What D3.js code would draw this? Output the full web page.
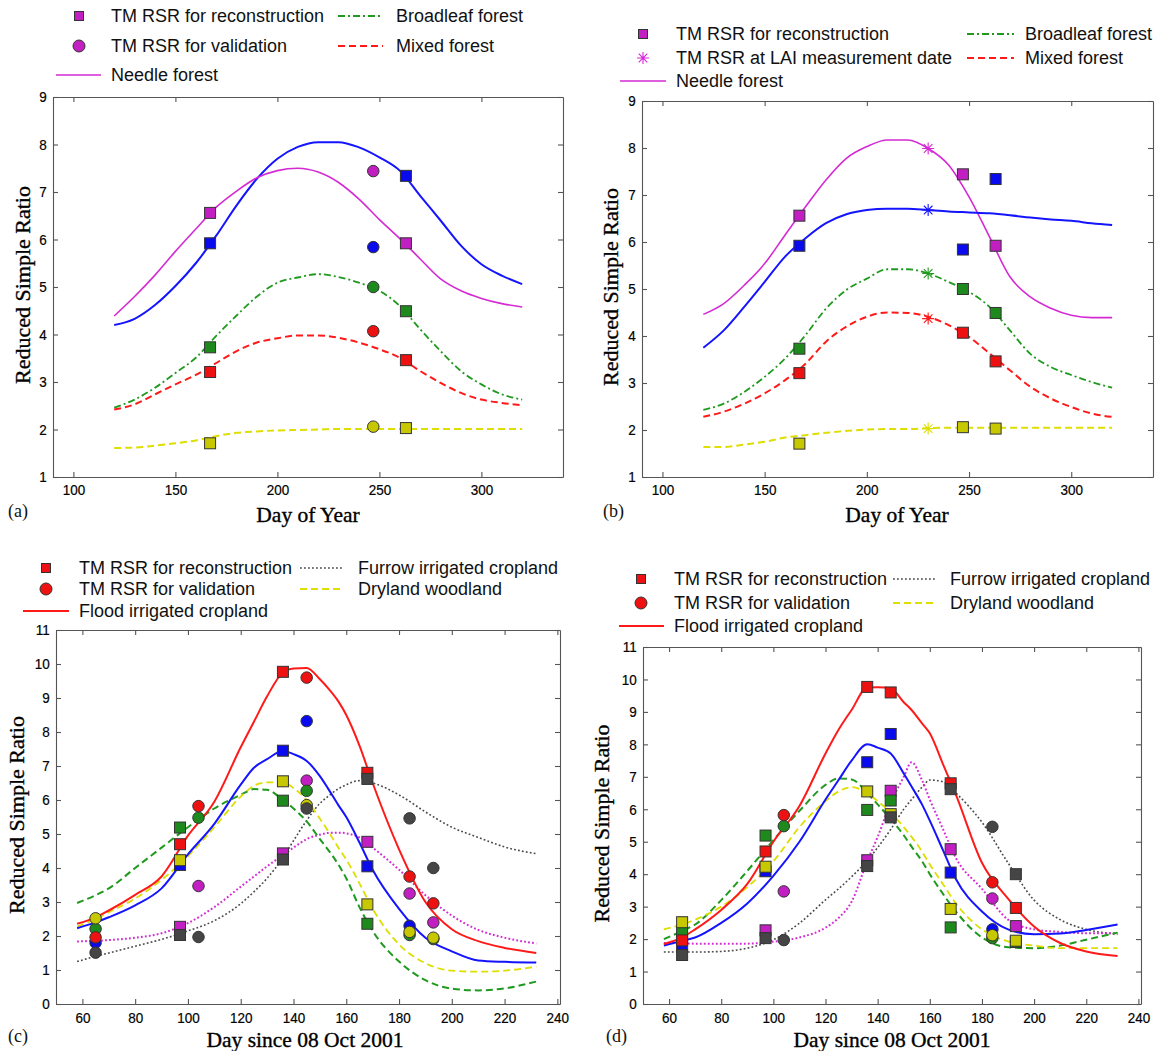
<!DOCTYPE html>
<html>
<head>
<meta charset="utf-8">
<script src="https://cdn.jsdelivr.net/npm/d3@7"></script>
<style>
  body { margin: 0; background: #fff; }
  svg { display: block; }
  .tick text { font-family: "Liberation Sans", Arial, sans-serif; font-size: 15px; fill: #000; stroke: #000; stroke-width: 0.2px; }
  .leg { font-family: "Liberation Sans", Arial, sans-serif; font-size: 18px; fill: #111; }
  .ttl { font-family: "Liberation Serif", "Times New Roman", serif; font-size: 22px; fill: #000; stroke: #000; stroke-width: 0.35px; }
  .tag { font-family: "Liberation Serif", "Times New Roman", serif; font-size: 18px; fill: #111; }
</style>
</head>
<body>
<svg id="fig" width="1155" height="1051"></svg>
<script>
// ---------- panels (a) and (b): forest classes, day of year ----------
var doyDays = [120, 130, 140, 150, 160, 170, 180, 190, 200, 210, 220, 230, 240, 250, 260, 270, 280, 290, 300, 310, 320];

// (a) reconstructed curves
var needleA   = [4.39, 4.80, 5.25, 5.75, 6.22, 6.68, 7.02, 7.30, 7.45, 7.50, 7.42, 7.20, 6.85, 6.42, 6.02, 5.59, 5.17, 4.92, 4.76, 4.65, 4.58];
var blueA     = [4.20, 4.33, 4.62, 5.02, 5.50, 6.08, 6.72, 7.28, 7.70, 7.95, 8.05, 8.05, 7.94, 7.73, 7.45, 6.92, 6.40, 5.87, 5.48, 5.24, 5.06];
var broadA    = [2.46, 2.63, 2.88, 3.19, 3.51, 3.97, 4.40, 4.80, 5.09, 5.20, 5.27, 5.21, 5.09, 4.92, 4.60, 4.11, 3.65, 3.23, 2.95, 2.74, 2.63];
var mixedA    = [2.42, 2.53, 2.74, 2.95, 3.15, 3.40, 3.65, 3.83, 3.92, 3.98, 3.98, 3.93, 3.83, 3.69, 3.51, 3.23, 2.98, 2.77, 2.63, 2.56, 2.51];
var yellowA   = [1.61, 1.62, 1.66, 1.71, 1.77, 1.86, 1.93, 1.96, 1.98, 1.99, 2.00, 2.01, 2.01, 2.01, 2.01, 2.01, 2.01, 2.01, 2.01, 2.01, 2.01];

// (b) reconstructed curves
var needleB   = [4.46, 4.69, 5.08, 5.54, 6.15, 6.75, 7.32, 7.78, 8.03, 8.17, 8.17, 7.99, 7.64, 6.96, 6.11, 5.26, 4.83, 4.59, 4.44, 4.39, 4.39];
var blueB     = [3.75, 4.12, 4.62, 5.15, 5.69, 6.08, 6.40, 6.59, 6.68, 6.71, 6.71, 6.68, 6.65, 6.63, 6.61, 6.57, 6.52, 6.48, 6.45, 6.40, 6.36];
var broadB    = [2.43, 2.56, 2.81, 3.13, 3.52, 4.02, 4.58, 4.98, 5.22, 5.42, 5.42, 5.33, 5.15, 4.94, 4.62, 4.12, 3.62, 3.34, 3.17, 3.02, 2.90];
var mixedB    = [2.28, 2.39, 2.56, 2.78, 3.06, 3.41, 3.88, 4.20, 4.41, 4.50, 4.49, 4.41, 4.23, 3.98, 3.63, 3.27, 2.92, 2.67, 2.49, 2.35, 2.28];
var yellowB   = [1.64, 1.64, 1.69, 1.75, 1.84, 1.89, 1.94, 1.98, 2.01, 2.02, 2.02, 2.04, 2.05, 2.05, 2.05, 2.05, 2.05, 2.05, 2.05, 2.05, 2.05];

// TM RSR observations (same images for both panels)
var tmDaysAB   = [167, 247, 263];
var tmNeedle   = [6.56, 7.44, 5.92];
var tmBlue     = [5.92, 5.84, 7.34];
var tmBroad    = [3.73, 5.00, 4.49];
var tmMixed    = [3.21, 4.07, 3.46];
var tmYellow   = [1.71, 2.06, 2.03];
var validDayA  = 247;

// (b) RSR at the LAI measurement date
var laiDay     = 230;
var laiRsr     = [7.99, 6.68, 5.33, 4.37, 2.03];   // needle, blue, broadleaf, mixed, yellow

// ---------- panels (c) and (d): cropland classes, day since 08 Oct 2001 ----------
var cropDays = [58, 65, 70, 80, 90, 100, 110, 120, 125, 130, 136, 140, 145, 150, 153, 157, 160, 165, 170, 180, 190, 200, 210, 220, 232];

var floodC   = [2.36, 2.55, 2.75, 3.21, 3.75, 4.95, 5.95, 7.55, 8.30, 9.05, 9.75, 9.87, 9.88, 9.55, 9.30, 8.90, 8.50, 7.60, 6.50, 4.55, 3.00, 2.20, 1.85, 1.65, 1.50];
var blueC    = [2.23, 2.40, 2.55, 2.90, 3.40, 4.40, 5.30, 6.45, 6.95, 7.20, 7.44, 7.35, 7.15, 6.70, 6.35, 5.85, 5.50, 4.75, 3.95, 2.80, 1.95, 1.55, 1.28, 1.24, 1.22];
var greenC   = [2.97, 3.20, 3.40, 4.00, 4.60, 5.20, 5.75, 6.15, 6.32, 6.30, 6.00, 5.75, 5.37, 4.85, 4.55, 4.10, 3.70, 2.85, 2.15, 1.25, 0.70, 0.45, 0.40, 0.46, 0.66];
var dryC     = [2.28, 2.50, 2.70, 3.10, 3.65, 4.35, 5.20, 6.10, 6.42, 6.52, 6.52, 6.35, 6.00, 5.45, 5.10, 4.60, 4.25, 3.55, 2.80, 1.75, 1.20, 0.98, 0.95, 0.98, 1.10];
var magentaC = [1.84, 1.86, 1.88, 1.95, 2.08, 2.38, 2.85, 3.45, 3.75, 4.05, 4.38, 4.60, 4.85, 4.98, 5.03, 5.04, 5.02, 4.90, 4.60, 3.95, 3.20, 2.60, 2.18, 1.95, 1.78];
var furrowC  = [1.25, 1.40, 1.50, 1.70, 1.90, 2.15, 2.45, 2.95, 3.30, 3.70, 4.30, 4.80, 5.40, 5.90, 6.10, 6.33, 6.45, 6.57, 6.50, 6.15, 5.65, 5.20, 4.90, 4.62, 4.42];

var floodD   = [1.85, 2.05, 2.30, 2.90, 3.70, 5.00, 6.10, 7.72, 8.45, 9.06, 9.75, 9.76, 9.72, 9.30, 9.06, 8.65, 8.34, 7.40, 6.45, 4.35, 3.25, 2.39, 1.88, 1.62, 1.48];
var blueD    = [1.80, 1.95, 2.05, 2.50, 3.10, 3.95, 5.00, 6.30, 6.90, 7.50, 8.00, 7.90, 7.72, 7.10, 6.70, 6.15, 5.65, 4.75, 3.85, 2.85, 2.30, 2.15, 2.17, 2.28, 2.45];
var greenD   = [2.00, 2.25, 2.45, 3.20, 4.10, 5.05, 5.95, 6.75, 6.95, 6.92, 6.50, 6.15, 5.70, 5.20, 4.85, 4.40, 4.00, 3.40, 2.85, 2.05, 1.75, 1.72, 1.80, 1.98, 2.20];
var dryD     = [2.30, 2.45, 2.60, 3.00, 3.60, 4.40, 5.45, 6.25, 6.55, 6.68, 6.50, 6.25, 5.90, 5.45, 5.15, 4.70, 4.30, 3.70, 3.10, 2.30, 1.93, 1.80, 1.72, 1.72, 1.72];
var magentaD = [1.88, 1.87, 1.86, 1.86, 1.86, 1.92, 2.05, 2.35, 2.65, 3.15, 4.40, 5.15, 6.20, 7.00, 7.45, 6.90, 6.30, 5.40, 4.50, 3.55, 2.60, 2.30, 2.22, 2.18, 2.18];
var furrowD  = [1.60, 1.60, 1.60, 1.62, 1.72, 1.98, 2.49, 3.21, 3.55, 3.92, 4.42, 4.82, 5.38, 6.00, 6.30, 6.68, 6.90, 6.85, 6.50, 5.60, 4.35, 3.20, 2.60, 2.30, 2.15];

// TM RSR observations (null = not visible)
var tmDaysCD   = [65, 97, 104, 136, 145, 168, 184, 193];
var tmFlood    = [1.96, 4.70, 5.82, 9.77, 9.60, 6.80, 3.75, 2.96];
var tmBlueC    = [1.80, 4.09, null, 7.45, 8.32, 4.05, 2.30, null];
var tmGreen    = [2.21, 5.19, 5.48, 5.98, 6.27, 2.36, 2.03, 1.91];
var tmDry      = [2.52, 4.23, null, 6.55, 5.85, 2.93, 2.12, 1.95];
var tmMagenta  = [null, 2.27, 3.47, 4.43, 6.57, 4.77, 3.25, 2.40];
var tmFurrow   = [1.51, 2.03, 1.97, 4.25, 5.75, 6.62, 5.46, 4.00];
var reconDaysC = [97, 136, 168];
var reconDaysD = [65, 97, 136, 145, 168, 193];

var col = {
  magenta: "#d42ad4", blue: "#1414ff", green: "#1f9a1f", red: "#ff1a1a", yellow: "#dede00", gray: "#4a4a4a"
};
var fillCol = {
  magenta: "#c21fc2", blue: "#0a0aee", green: "#1e8a1e", red: "#ee1111", yellow: "#c8c800", gray: "#454545"
};
var dashed = "7,4", dashDot = "7,3,2,3", dotted = "1.8,2.2";

var svg = d3.select("#fig");

function drawMarker(g, shape, cx, cy, c, size) {
  if (shape === "square") {
    var s = size || 11;
    g.append("rect").attr("x", cx - s / 2).attr("y", cy - s / 2).attr("width", s).attr("height", s)
      .attr("fill", fillCol[c]).attr("stroke", "#333").attr("stroke-width", 1);
  } else if (shape === "circle") {
    g.append("circle").attr("cx", cx).attr("cy", cy).attr("r", (size || 11.5) / 2)
      .attr("fill", fillCol[c]).attr("stroke", "#333").attr("stroke-width", 1);
  } else {
    var r = 6, d = 4.3;
    g.append("path")
      .attr("d", `M${cx - r},${cy}H${cx + r}M${cx},${cy - r}V${cy + r}M${cx - d},${cy - d}L${cx + d},${cy + d}M${cx - d},${cy + d}L${cx + d},${cy - d}`)
      .attr("stroke", col[c]).attr("stroke-width", 1.1).attr("fill", "none");
  }
}

function drawPanel(p) {
  var g = svg.append("g");
  var x = d3.scaleLinear().domain(p.xDomain).range([p.left, p.right]);
  var y = d3.scaleLinear().domain(p.yDomain).range([p.bottom, p.top]);

  // labelled axes bottom/left, bare inward ticks on top/right
  g.append("g").attr("transform", `translate(0,${p.bottom})`)
    .call(d3.axisBottom(x).tickValues(p.xTicks).tickSizeInner(-5).tickSizeOuter(0).tickPadding(p.xPad));
  g.append("g").attr("transform", `translate(${p.left},0)`)
    .call(d3.axisLeft(y).tickValues(p.yTicks).tickSizeInner(-5).tickSizeOuter(0).tickPadding(7));
  g.append("g").attr("transform", `translate(0,${p.top})`)
    .call(d3.axisTop(x).tickValues(p.xTicks).tickSizeInner(-5).tickSizeOuter(0).tickFormat(""));
  g.append("g").attr("transform", `translate(${p.right},0)`)
    .call(d3.axisRight(y).tickValues(p.yTicks).tickSizeInner(-5).tickSizeOuter(0).tickFormat(""));
  g.selectAll(".domain, .tick line").attr("stroke", "#555").attr("stroke-width", 1.1);
  g.selectAll(".tick text").attr("transform", "scale(0.9,1)");

  var line = d3.line().x(d => x(d[0])).y(d => y(d[1])).curve(d3.curveMonotoneX);
  p.curves.forEach(function(c) {
    g.append("path").datum(d3.zip(c.days, c.vals))
      .attr("fill", "none").attr("stroke", col[c.color]).attr("stroke-width", c.width)
      .attr("stroke-dasharray", c.dash || null)
      .attr("d", line);
  });

  p.points.forEach(function(pt) {
    pt.vals.forEach(function(v, i) {
      if (v == null) return;
      var shape = pt.shape(pt.days[i]);
      drawMarker(g, shape, x(pt.days[i]), y(v), pt.color);
    });
  });

  // legend
  p.legend.forEach(function(it) {
    if (it.kind === "line") {
      g.append("line").attr("x1", it.x1).attr("x2", it.x2).attr("y1", it.y).attr("y2", it.y)
        .attr("stroke", col[it.color]).attr("stroke-width", it.width).attr("stroke-dasharray", it.dash || null);
    } else {
      drawMarker(g, it.kind, it.x, it.y, it.color, it.kind === "square" ? 9 : 12);
    }
    g.append("text").attr("class", "leg").attr("x", it.tx).attr("y", it.y).attr("dy", "0.35em").text(it.text);
  });

  g.append("text").attr("class", "ttl").attr("text-anchor", "middle")
    .attr("transform", `translate(${p.yLabelX},${(p.top + p.bottom) / 2 - 2}) rotate(-90)`)
    .attr("dy", "0.35em").text("Reduced Simple Ratio");
  g.append("text").attr("class", "ttl").attr("text-anchor", "middle").style("font-size", "21.5px")
    .attr("x", p.xLabelX).attr("y", p.xLabelY).attr("dy", "0.35em").text(p.xLabel);
  g.append("text").attr("class", "tag").attr("x", p.tagX).attr("y", p.xLabelY - 3).attr("dy", "0.35em").text(p.tag);
}

function forestLegend(mx, tx, rows, lineX, rx1, rtx, second) {
  return [
    { kind: "square", color: "magenta", x: mx, y: rows[0], tx: tx, text: "TM RSR for reconstruction" },
    second,
    { kind: "line", color: "magenta", width: 1.6, x1: lineX[0], x2: lineX[1], y: rows[2], tx: tx, text: "Needle forest" },
    { kind: "line", color: "green", width: 1.8, dash: dashDot, x1: rx1[0], x2: rx1[1], y: rows[0], tx: rtx, text: "Broadleaf forest" },
    { kind: "line", color: "red", width: 2, dash: dashed, x1: rx1[0], x2: rx1[1], y: rows[1], tx: rtx, text: "Mixed forest" }
  ];
}

function cropLegend(mx, tx, rows, lineX, rx1, rtx) {
  return [
    { kind: "square", color: "red", x: mx, y: rows[0], tx: tx, text: "TM RSR for reconstruction" },
    { kind: "circle", color: "red", x: mx, y: rows[1], tx: tx, text: "TM RSR for validation" },
    { kind: "line", color: "red", width: 2, x1: lineX[0], x2: lineX[1], y: rows[2], tx: tx, text: "Flood irrigated cropland" },
    { kind: "line", color: "gray", width: 1.6, dash: dotted, x1: rx1[0], x2: rx1[1], y: rows[0], tx: rtx, text: "Furrow irrigated cropland" },
    { kind: "line", color: "yellow", width: 2, dash: dashed, x1: rx1[0], x2: rx1[1], y: rows[1], tx: rtx, text: "Dryland woodland" }
  ];
}

var forestObs = [
  { color: "blue", vals: tmBlue }, { color: "magenta", vals: tmNeedle }, { color: "green", vals: tmBroad },
  { color: "red", vals: tmMixed }, { color: "yellow", vals: tmYellow }
];
var forestColors = ["magenta", "blue", "green", "red", "yellow"];

// (a)
drawPanel({
  left: 53, right: 563, top: 97, bottom: 477,
  xDomain: [90, 340], yDomain: [1, 9],
  xTicks: [100, 150, 200, 250, 300], yTicks: d3.range(1, 10), xPad: 7,
  curves: [
    { days: doyDays, vals: blueA, color: "blue", width: 2 },
    { days: doyDays, vals: needleA, color: "magenta", width: 1.6 },
    { days: doyDays, vals: broadA, color: "green", width: 1.8, dash: dashDot },
    { days: doyDays, vals: mixedA, color: "red", width: 2, dash: dashed },
    { days: doyDays, vals: yellowA, color: "yellow", width: 2, dash: dashed }
  ],
  points: forestObs.map(o => ({ color: o.color, vals: o.vals, days: tmDaysAB,
    shape: d => d === validDayA ? "circle" : "square" })),
  legend: forestLegend(79, 111, [16, 46, 75], [56, 101], [338, 383], 396,
    { kind: "circle", color: "magenta", x: 79, y: 46, tx: 111, text: "TM RSR for validation" }),
  yLabelX: 22, xLabelX: 308, xLabelY: 514, xLabel: "Day of Year", tagX: 8, tag: "(a)"
});

// (b)
drawPanel({
  left: 642, right: 1153, top: 101, bottom: 477,
  xDomain: [90, 340], yDomain: [1, 9],
  xTicks: [100, 150, 200, 250, 300], yTicks: d3.range(1, 10), xPad: 7,
  curves: [
    { days: doyDays, vals: needleB, color: "magenta", width: 1.6 },
    { days: doyDays, vals: blueB, color: "blue", width: 2 },
    { days: doyDays, vals: broadB, color: "green", width: 1.8, dash: dashDot },
    { days: doyDays, vals: mixedB, color: "red", width: 2, dash: dashed },
    { days: doyDays, vals: yellowB, color: "yellow", width: 2, dash: dashed }
  ],
  points: forestObs.map(o => ({ color: o.color, vals: o.vals, days: tmDaysAB, shape: () => "square" }))
    .concat(forestColors.map((c, i) => ({ color: c, vals: [laiRsr[i]], days: [laiDay], shape: () => "star" }))),
  legend: forestLegend(643, 676, [34, 58, 81], [620, 666], [967, 1014], 1025,
    { kind: "star", color: "magenta", x: 643, y: 58, tx: 676, text: "TM RSR at LAI measurement date" }),
  yLabelX: 610, xLabelX: 897, xLabelY: 514, xLabel: "Day of Year", tagX: 603, tag: "(b)"
});

var cropObs = [
  { color: "blue", vals: tmBlueC }, { color: "magenta", vals: tmMagenta }, { color: "green", vals: tmGreen },
  { color: "yellow", vals: tmDry }, { color: "red", vals: tmFlood }, { color: "gray", vals: tmFurrow }
];

function cropCurves(flood, blue, green, dry, magenta, furrow) {
  return [
    { days: cropDays, vals: furrow, color: "gray", width: 1.6, dash: dotted },
    { days: cropDays, vals: magenta, color: "magenta", width: 2, dash: dotted },
    { days: cropDays, vals: green, color: "green", width: 2, dash: dashed },
    { days: cropDays, vals: dry, color: "yellow", width: 1.8, dash: dashed },
    { days: cropDays, vals: blue, color: "blue", width: 2 },
    { days: cropDays, vals: flood, color: "red", width: 2 }
  ];
}

// (c)
drawPanel({
  left: 56, right: 560, top: 630, bottom: 1004,
  xDomain: [50, 241], yDomain: [0, 11],
  xTicks: d3.range(60, 241, 20), yTicks: d3.range(0, 12), xPad: 8,
  curves: cropCurves(floodC, blueC, greenC, dryC, magentaC, furrowC),
  points: cropObs.map(o => ({ color: o.color, vals: o.vals, days: tmDaysCD,
    shape: d => reconDaysC.indexOf(d) >= 0 ? "square" : "circle" })),
  legend: cropLegend(46, 79, [568, 589, 611], [23, 69], [300, 344], 358),
  yLabelX: 16, xLabelX: 305, xLabelY: 1039, xLabel: "Day since 08 Oct 2001", tagX: 8, tag: "(c)"
});

// (d)
drawPanel({
  left: 643, right: 1141, top: 647, bottom: 1004,
  xDomain: [50, 241], yDomain: [0, 11],
  xTicks: d3.range(60, 241, 20), yTicks: d3.range(0, 12), xPad: 8,
  curves: cropCurves(floodD, blueD, greenD, dryD, magentaD, furrowD),
  points: cropObs.map(o => ({ color: o.color, vals: o.vals, days: tmDaysCD,
    shape: d => reconDaysD.indexOf(d) >= 0 ? "square" : "circle" })),
  legend: cropLegend(641, 674, [579, 603, 626], [619, 664], [893, 936], 950),
  yLabelX: 601, xLabelX: 892, xLabelY: 1039, xLabel: "Day since 08 Oct 2001", tagX: 606, tag: "(d)"
});
</script>
</body>
</html>
